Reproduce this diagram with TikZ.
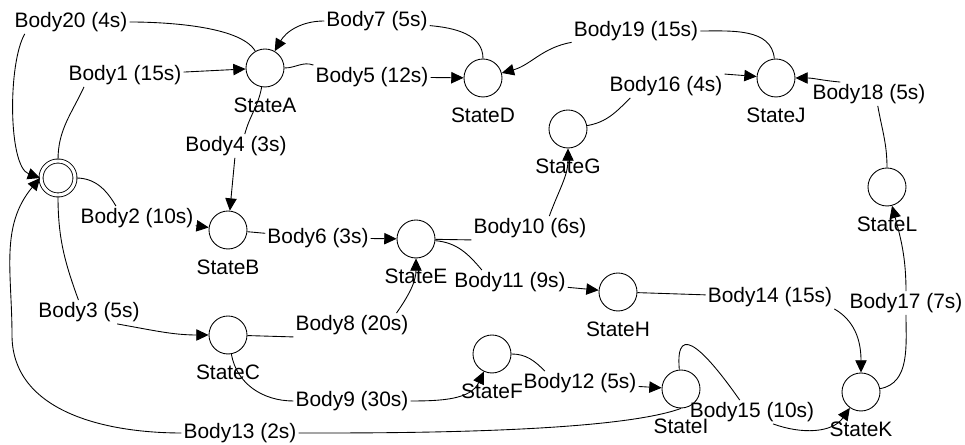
\documentclass[tikz,border=0pt]{standalone}
\usepackage{fontspec}
\setmainfont{Liberation Sans}
\usepackage{tikz}
\usetikzlibrary{automata, arrows.meta}

\begin{document}
\begin{tikzpicture}[x=0.02cm, y=0.02cm, line width=0.5pt,
        font=\fontsize{11.9}{14}\selectfont,
        >={Triangle[length=7pt,width=6.5pt]}]
    \tikzset{every state/.style={minimum size=0.76cm, inner sep=0pt, line width=0.5pt},
             body/.style={inner sep=1pt},
             stlabel/.style={label={[label distance=2.5pt]below:#1}}}
    \useasboundingbox (0,0) rectangle (965,445);

    % INITIAL STATE
    \node[state, accepting, double distance=1.8pt, minimum size=0.68cm] (s0) at (58,267) {};

    % STATES
    \node[state, stlabel=StateA] (sA) at (265,377) {};
    \node[state, stlabel=StateB] (sB) at (228,215) {};
    \node[state, stlabel=StateC] (sC) at (228,110) {};
    \node[state, stlabel=StateD] (sD) at (483,367) {};
    \node[state, stlabel=StateE] (sE) at (416,206) {};
    \node[state, stlabel=StateF] (sF) at (492,91) {};
    \node[state, stlabel=StateG] (sG) at (568,316) {};
    \node[state, stlabel=StateH] (sH) at (618,153) {};
    \node[state, stlabel=StateI] (sI) at (681,56) {};
    \node[state, stlabel=StateJ] (sJ) at (776,367) {};
    \node[state, stlabel=StateK] (sK) at (861,53) {};
    \node[state, stlabel=StateL] (sL) at (887,258) {};

    % LABELS
    \node[body] (b1) at (125,370) {Body1 (15s)};
    \node[body] (b2) at (137,227) {Body2 (10s)};
    \node[body] (b3) at (89,133) {Body3 (5s)};
    \node[body] (b4) at (236,299) {Body4 (3s)};
    \node[body] (b5) at (372,368) {Body5 (12s)};
    \node[body] (b6) at (318,207) {Body6 (3s)};
    \node[body] (b7) at (377,424) {Body7 (5s)};
    \node[body] (b8) at (352,120) {Body8 (20s)};
    \node[body] (b9) at (352,44) {Body9 (30s)};
    \node[body] (b10) at (530,217) {Body10 (6s)};
    \node[body] (b11) at (510,163) {Body11 (9s)};
    \node[body] (b12) at (580,62) {Body12 (5s)};
    \node[body] (b13) at (240,12) {Body13 (2s)};
    \node[body] (b14) at (770,148) {Body14 (15s)};
    \node[body] (b15) at (752,33) {Body15 (10s)};
    \node[body] (b16) at (666,359) {Body16 (4s)};
    \node[body] (b17) at (906,142) {Body17 (7s)};
    \node[body] (b18) at (869,351) {Body18 (5s)};
    \node[body] (b19) at (636,414) {Body19 (15s)};
    \node[body] (b20) at (71,423) {Body20 (4s)};
    \coordinate (c13) at (12,110);

    % TRANSITIONS
    \draw (s0) to[out=90,in=245] ([xshift=10pt]b1.south west);
    \draw[->] (b1) -- (sA);
    \draw (s0) to[out=0,in=120] ([xshift=-12pt]b2.north);
    \draw[->] (b2) -- (sB);
    \draw (s0) to[out=-90,in=110] ([xshift=-6pt]b3.north);
    \draw[->] ([xshift=-14pt]b3.south east) to[out=-10,in=180] (sC);
    \draw (sA) to[out=-100,in=75] ([xshift=5pt]b4.north);
    \draw[->] (b4) -- (sB);
    \draw (sA) to[out=0,in=160] (b5.north west);
    \draw[->] (b5) -- (sD);
    \draw (sB) -- (b6);
    \draw[->] (b6) -- (sE);
    \draw (sD) to[out=90,in=-5] (b7);
    \draw[->] (b7) to[out=180,in=60] (sA);
    \draw (sC) -- (b8.south west);
    \draw[->] ([xshift=-8pt]b8.north east) to[out=55,in=-90] (sE);
    \draw (sC) to[out=-80,in=180] (b9);
    \draw[->] (b9) to[out=0,in=-115] (sF);
    \draw (sE) -- (b10.south west);
    \draw[->] ([xshift=11pt]b10.north) to[out=70,in=-90] (sG);
    \draw (sE) to[out=-5,in=130] ([xshift=-16pt]b11.north);
    \draw[->] (b11) -- (sH);
    \draw (sF) to[out=0,in=135] ([xshift=-20pt]b12.north);
    \draw[->] (b12) -- (sI);
    \draw (sI.south) to[out=200,in=0,looseness=0.5] (b13);
    \draw[->] (b13) to[out=180,in=-90] (c13) to[out=90,in=230] (s0.west);
    \draw (sH) -- (b14);
    \draw[->] (b14.south east) to[out=-30,in=90] (sK);
    \draw (sI) to[out=95,in=125,looseness=2] ([xshift=-7pt]b15.north);
    \draw[->] ([xshift=12pt]b15.south) to[out=-20,in=-125] (sK);
    \draw (sG) to[out=10,in=225] ([xshift=13pt]b16.south west);
    \draw[->] (b16.north east) -- (sJ);
    \draw (sK) to[out=10,in=-90] (b17.south);
    \draw[->] (b17) to[out=90,in=-75] (sL);
    \draw (sL) to[out=90,in=-80] ([xshift=5pt]b18.south);
    \draw[->] ([xshift=17pt]b18.north west) to[out=175,in=0] (sJ);
    \draw (sJ) to[out=95,in=0] (b19);
    \draw[->] (b19) to[out=190,in=15] (sD);
    \draw (sA) to[out=120,in=0,looseness=0.6] (b20);
    \draw[->] ([xshift=7pt]b20.south west) to[out=240,in=160,looseness=0.6] (s0.west);

\end{tikzpicture}
\end{document}
